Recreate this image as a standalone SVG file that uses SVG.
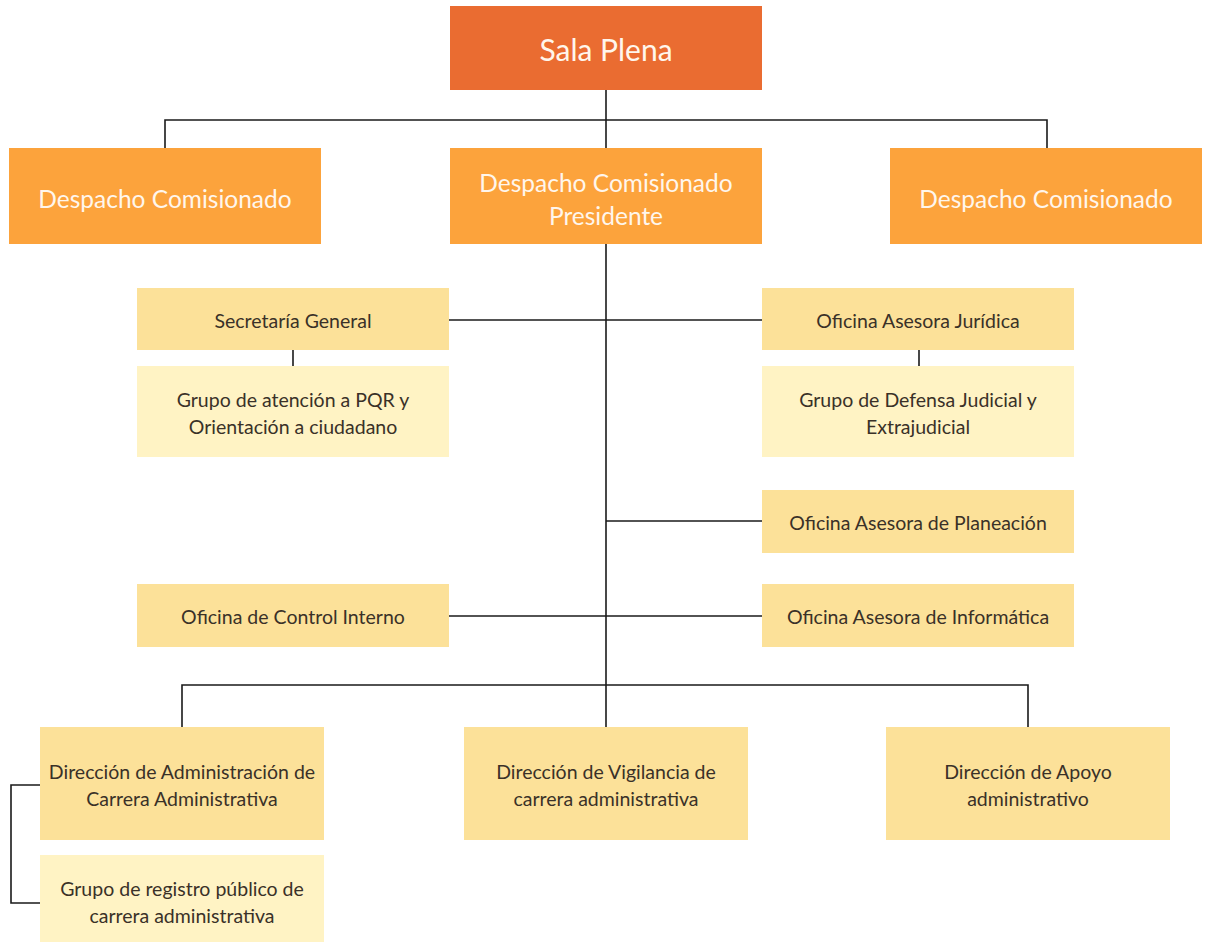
<svg xmlns="http://www.w3.org/2000/svg" width="1208" height="943" viewBox="0 0 1208 943">
<style>
.t{font-family:Lato,"Open Sans","Liberation Sans",sans-serif;text-anchor:middle;dominant-baseline:central}
.big{font-size:24.5px;fill:#FFF6EC}
.sm{font-size:19.5px;fill:#3a3128}
.top{fill:#EA6C31}
.desp{fill:#FCA33C}
.ofi{fill:#FCE199}
.grp{fill:#FFF3C4}
.ln{stroke:#1a1a1a;stroke-width:1.6;fill:none}
</style>
<rect width="1208" height="943" fill="#ffffff"/>
<g id="connectors">
<path class="ln" d="M606 90V727"/>
<path class="ln" d="M165 148V120H1047V148"/>
<path class="ln" d="M449 320H762"/>
<path class="ln" d="M293 350V366"/>
<path class="ln" d="M919 350V366"/>
<path class="ln" d="M606 521H762"/>
<path class="ln" d="M449 616H762"/>
<path class="ln" d="M182 727V685H1028V727"/>
<path class="ln" d="M40 785H11V903H40"/>
</g>
<g id="sala-plena"><rect class="top" x="450" y="6" width="312" height="84"/><text class="t" x="606" y="49" style="font-size:30px;fill:#FFF6EC">Sala Plena</text></g>
<g id="despacho-izq"><rect class="desp" x="9" y="148" width="312" height="96"/><text class="t big" x="165" y="198">Despacho Comisionado</text></g>
<g id="despacho-presidente"><rect class="desp" x="450" y="148" width="312" height="96"/><text class="t big" x="606" y="182">Despacho Comisionado</text><text class="t big" x="606" y="215">Presidente</text></g>
<g id="despacho-der"><rect class="desp" x="890" y="148" width="312" height="96"/><text class="t big" x="1046" y="198">Despacho Comisionado</text></g>
<g id="secretaria-general"><rect class="ofi" x="137" y="288" width="312" height="62"/><text class="t sm" x="293" y="320">Secretaría General</text></g>
<g id="grupo-pqr"><rect class="grp" x="137" y="366" width="312" height="91"/><text class="t sm" x="293" y="399">Grupo de atención a PQR y</text><text class="t sm" x="293" y="426">Orientación a ciudadano</text></g>
<g id="oficina-juridica"><rect class="ofi" x="762" y="288" width="312" height="62"/><text class="t sm" x="918" y="320">Oficina Asesora Jurídica</text></g>
<g id="grupo-defensa"><rect class="grp" x="762" y="366" width="312" height="91"/><text class="t sm" x="918" y="399">Grupo de Defensa Judicial y</text><text class="t sm" x="918" y="426">Extrajudicial</text></g>
<g id="oficina-planeacion"><rect class="ofi" x="762" y="490" width="312" height="63"/><text class="t sm" x="918" y="522">Oficina Asesora de Planeación</text></g>
<g id="oficina-control"><rect class="ofi" x="137" y="584" width="312" height="63"/><text class="t sm" x="293" y="616">Oficina de Control Interno</text></g>
<g id="oficina-informatica"><rect class="ofi" x="762" y="584" width="312" height="63"/><text class="t sm" x="918" y="616">Oficina Asesora de Informática</text></g>
<g id="direccion-administracion"><rect class="ofi" x="40" y="727" width="284" height="113"/><text class="t sm" x="182" y="771">Dirección de Administración de</text><text class="t sm" x="182" y="798">Carrera Administrativa</text></g>
<g id="direccion-vigilancia"><rect class="ofi" x="464" y="727" width="284" height="113"/><text class="t sm" x="606" y="771">Dirección de Vigilancia de</text><text class="t sm" x="606" y="798">carrera administrativa</text></g>
<g id="direccion-apoyo"><rect class="ofi" x="886" y="727" width="284" height="113"/><text class="t sm" x="1028" y="771">Dirección de Apoyo</text><text class="t sm" x="1028" y="798">administrativo</text></g>
<g id="grupo-registro"><rect class="grp" x="40" y="855" width="284" height="87"/><text class="t sm" x="182" y="888">Grupo de registro público de</text><text class="t sm" x="182" y="915">carrera administrativa</text></g>
</svg>
